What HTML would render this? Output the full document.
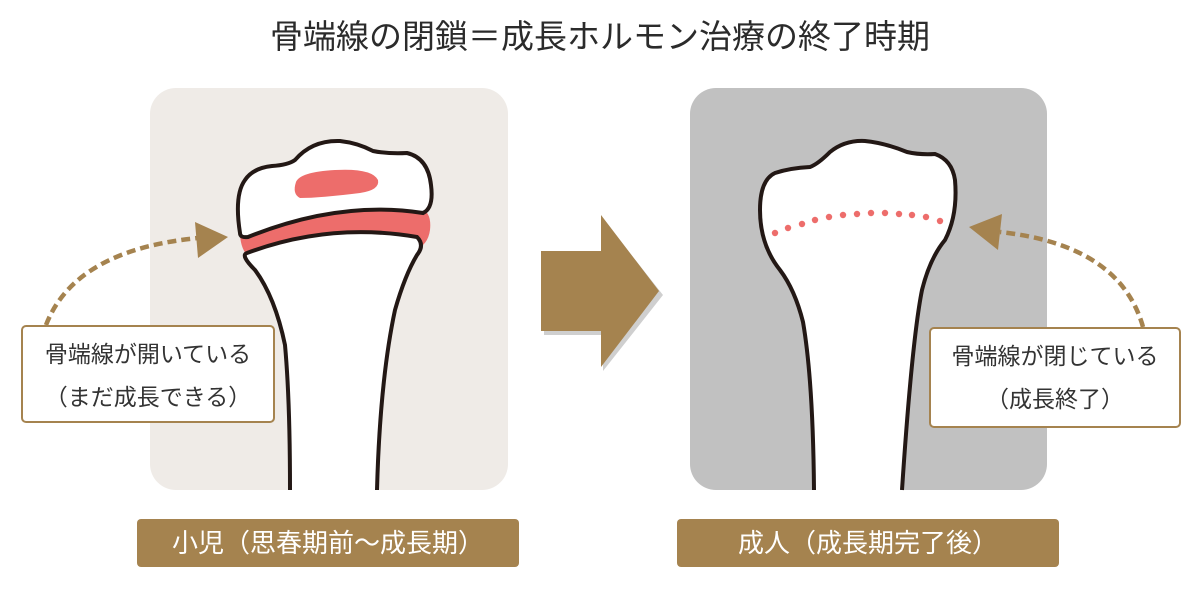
<!DOCTYPE html>
<html><head><meta charset="utf-8"><style>
html,body{margin:0;padding:0;background:#fff;}
body{width:1200px;height:600px;position:relative;overflow:hidden;font-family:"Liberation Sans","Noto Sans CJK JP",sans-serif;}
.t{position:absolute;text-align:center;}
.box{position:absolute;background:#fff;border:2px solid #a5834f;border-radius:5px;box-sizing:border-box;color:#333;font-size:23px;line-height:43px;text-align:center;padding-top:6px;}
.lab{position:absolute;background:#a5834f;border-radius:4px;color:#fff;font-size:26px;line-height:48px;text-align:center;top:519px;height:48px;}
</style></head><body>
<svg width="1200" height="600" style="position:absolute;left:0;top:0">
<rect x="150" y="88" width="358" height="402" rx="26" fill="#efebe7"/>
<rect x="690" y="88" width="357" height="402" rx="26" fill="#c1c1c1"/>
<path d="M240 232 Q236 220 245 214 L420 208 Q432 212 430 230 Q428 245 415 250 L250 258 Q240 250 240 232 Z" fill="#ed6d6b"/>
<path d="M290 490 Q290 400 285 345 Q275 297 255 270 Q240 255 247 253 Q330 222 417 237 Q425 245 417 255 Q405 275 395 310 Q380 380 377 490 Z" fill="#fff"/>
<path d="M290 490 Q290 400 285 345 Q275 297 255 270 Q240 255 247 253 Q330 222 417 237 Q425 245 417 255 Q405 275 395 310 Q380 380 377 490" fill="none" stroke="#231815" stroke-width="4"/>
<path d="M240 233 Q234 195 245 180 Q253 168 272 166 Q288 165 295 160 Q312 140 340 141 Q358 143 373 151 Q388 154 407 153 Q428 158 431 185 Q434 208 423 213 Q340 200 248 237 Q240 238 240 233 Z" fill="#fff" stroke="#231815" stroke-width="4"/>
<path d="M296 182 Q300 172 335 170 Q372 168 378 180 Q380 190 360 193 Q320 198 300 198 Q292 194 296 182 Z" fill="#ed6d6b"/>
<path d="M814 490 Q813 380 803 322 Q795 290 780 270 Q760 245 760 210 Q760 180 775 173 Q790 168 810 167 Q818 164 830 152 Q845 140 865 141 Q885 143 907 152 Q920 155 935 154 Q952 160 955 180 Q958 215 945 240 Q930 258 922 290 Q912 340 902 490 Z" fill="#fff"/>
<path d="M814 490 Q813 380 803 322 Q795 290 780 270 Q760 245 760 210 Q760 180 775 173 Q790 168 810 167 Q818 164 830 152 Q845 140 865 141 Q885 143 907 152 Q920 155 935 154 Q952 160 955 180 Q958 215 945 240 Q930 258 922 290 Q912 340 902 490" fill="none" stroke="#231815" stroke-width="4"/>
<g fill="#ed6d6b">
<circle cx="775" cy="233" r="3.2"/><circle cx="788" cy="228" r="3.2"/><circle cx="802" cy="224" r="3.2"/><circle cx="815" cy="220" r="3.2"/><circle cx="829" cy="217" r="3.2"/><circle cx="843" cy="215" r="3.2"/><circle cx="857" cy="214" r="3.2"/><circle cx="871" cy="213" r="3.2"/><circle cx="885" cy="213" r="3.2"/><circle cx="899" cy="214" r="3.2"/><circle cx="912" cy="215" r="3.2"/><circle cx="926" cy="217" r="3.2"/><circle cx="940" cy="221" r="3.2"/>
</g>
<path d="M46 325 Q75 250 198 238" fill="none" stroke="#a5834f" stroke-width="4.5" stroke-dasharray="9 5"/>
<polygon points="228,237 195,222 198,258" fill="#a5834f"/>
<path d="M1143 327 Q1120 245 1000 232" fill="none" stroke="#a5834f" stroke-width="4.5" stroke-dasharray="9 5"/>
<polygon points="969,227 1002,214 998,250" fill="#a5834f"/>
<polygon points="544,255 603,255 603,219 663,295 603,371 603,335 544,335" fill="#cfcfcf"/>
<polygon points="541,251 601,251 601,215 659,291 601,367 601,331 541,331" fill="#a5834f"/>
</svg>
<div class="t" style="left:0;width:1200px;top:16px;font-size:33px;color:#2b2b2b;line-height:42px;">骨端線の閉鎖＝成長ホルモン治療の終了時期</div>
<div class="box" style="left:21px;top:325px;width:254px;height:98px;">骨端線が開いている<br>（まだ成長できる）</div>
<div class="box" style="left:929px;top:327px;width:252px;height:101px;">骨端線が閉じている<br>（成長終了）</div>
<div class="lab" style="left:137px;width:382px;">小児（思春期前〜成長期）</div>
<div class="lab" style="left:677px;width:382px;">成人（成長期完了後）</div>
</body></html>
